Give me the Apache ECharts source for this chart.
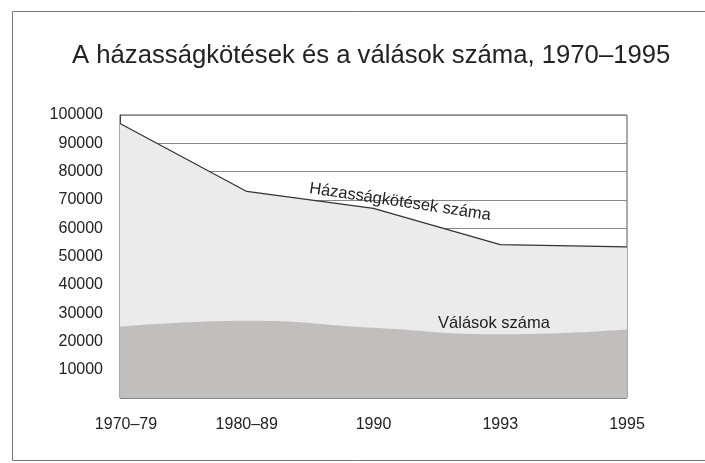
<!DOCTYPE html>
<html>
<head>
<meta charset="utf-8">
<script src="https://cdn.jsdelivr.net/npm/echarts@6/dist/echarts.min.js"></script>
<style>html,body{margin:0;padding:0;background:#fff}#c{width:705px;height:463px}</style>
</head>
<body>
<div id="c"></div>
<script>
const categories = ['1970–79', '1980–89', '1990', '1993', '1995'];
const marriages = [97000, 73000, 67000, 54200, 53400];
const divorces = [25200, 27300, 24800, 22500, 24200];
const yTicks = [10000, 20000, 30000, 40000, 50000, 60000, 70000, 80000, 90000, 100000];
const titleText = 'A házasságkötések és a válások száma, 1970–1995';
const marriageLabel = 'Házasságkötések száma';
const divorceLabel = 'Válások száma';

const FONT = 'Liberation Sans, Arial, sans-serif';
const chart = echarts.init(document.getElementById('c'), null, {renderer: 'canvas'});
chart.setOption({
  backgroundColor: '#fff',
  animation: false,
  title: {
    text: titleText,
    left: 67,
    top: 38,
    textStyle: {fontFamily: FONT, fontSize: 25.7, fontWeight: 'normal', color: '#222'}
  },
  grid: {left: 120, right: 78, top: 115, bottom: 65, show: true, borderColor: '#555', borderWidth: 1, backgroundColor: 'transparent'},
  xAxis: {
    type: 'category',
    data: categories,
    boundaryGap: false,
    axisLine: {show: false},
    axisTick: {show: false},
    axisLabel: {
      interval: 0,
      margin: 19,
      fontFamily: FONT,
      fontSize: 16,
      color: '#222',
      formatter: (v, i) => (i === 0 ? '{first|' + v + '}' : v),
      rich: {first: {fontFamily: FONT, fontSize: 16, color: '#222', padding: [0, 0, 0, 12]}}
    }
  },
  yAxis: {
    type: 'value',
    min: 0,
    max: 100000,
    interval: 10000,
    axisLine: {show: true, lineStyle: {color: '#444'}},
    axisTick: {show: false},
    splitLine: {show: true, lineStyle: {color: '#888', width: 1}},
    axisLabel: {
      margin: 17,
      fontFamily: FONT,
      fontSize: 16,
      color: '#222',
      formatter: v => (yTicks.indexOf(v) >= 0 ? String(v) : '')
    }
  },
  series: [
    {
      name: marriageLabel,
      type: 'line',
      data: marriages,
      symbol: 'none',
      lineStyle: {color: '#333', width: 1.2},
      areaStyle: {color: '#ecebeb', opacity: 1},
      z: 2
    },
    {
      name: divorceLabel,
      type: 'line',
      data: divorces,
      symbol: 'none',
      smooth: true,
      lineStyle: {width: 0},
      areaStyle: {color: '#c1bebe', opacity: 1},
      z: 3
    }
  ],
  graphic: [
    {type: 'polyline', shape: {points: [[740, 11.5], [12.5, 11.5], [12.5, 460.5], [740, 460.5]]}, style: {fill: 'none', stroke: '#777', lineWidth: 1}, z: 0},
    {type: 'text', x: 400, y: 202, rotation: -8.5 * Math.PI / 180, style: {text: marriageLabel, font: '16.5px "Liberation Sans", Arial, sans-serif', fill: '#222', textAlign: 'center', textVerticalAlign: 'middle'}, z: 10},
    {type: 'text', x: 494, y: 323, style: {text: divorceLabel, font: '16.5px "Liberation Sans", Arial, sans-serif', fill: '#222', textAlign: 'center', textVerticalAlign: 'middle'}, z: 10}
  ]
});
</script>
</body>
</html>
